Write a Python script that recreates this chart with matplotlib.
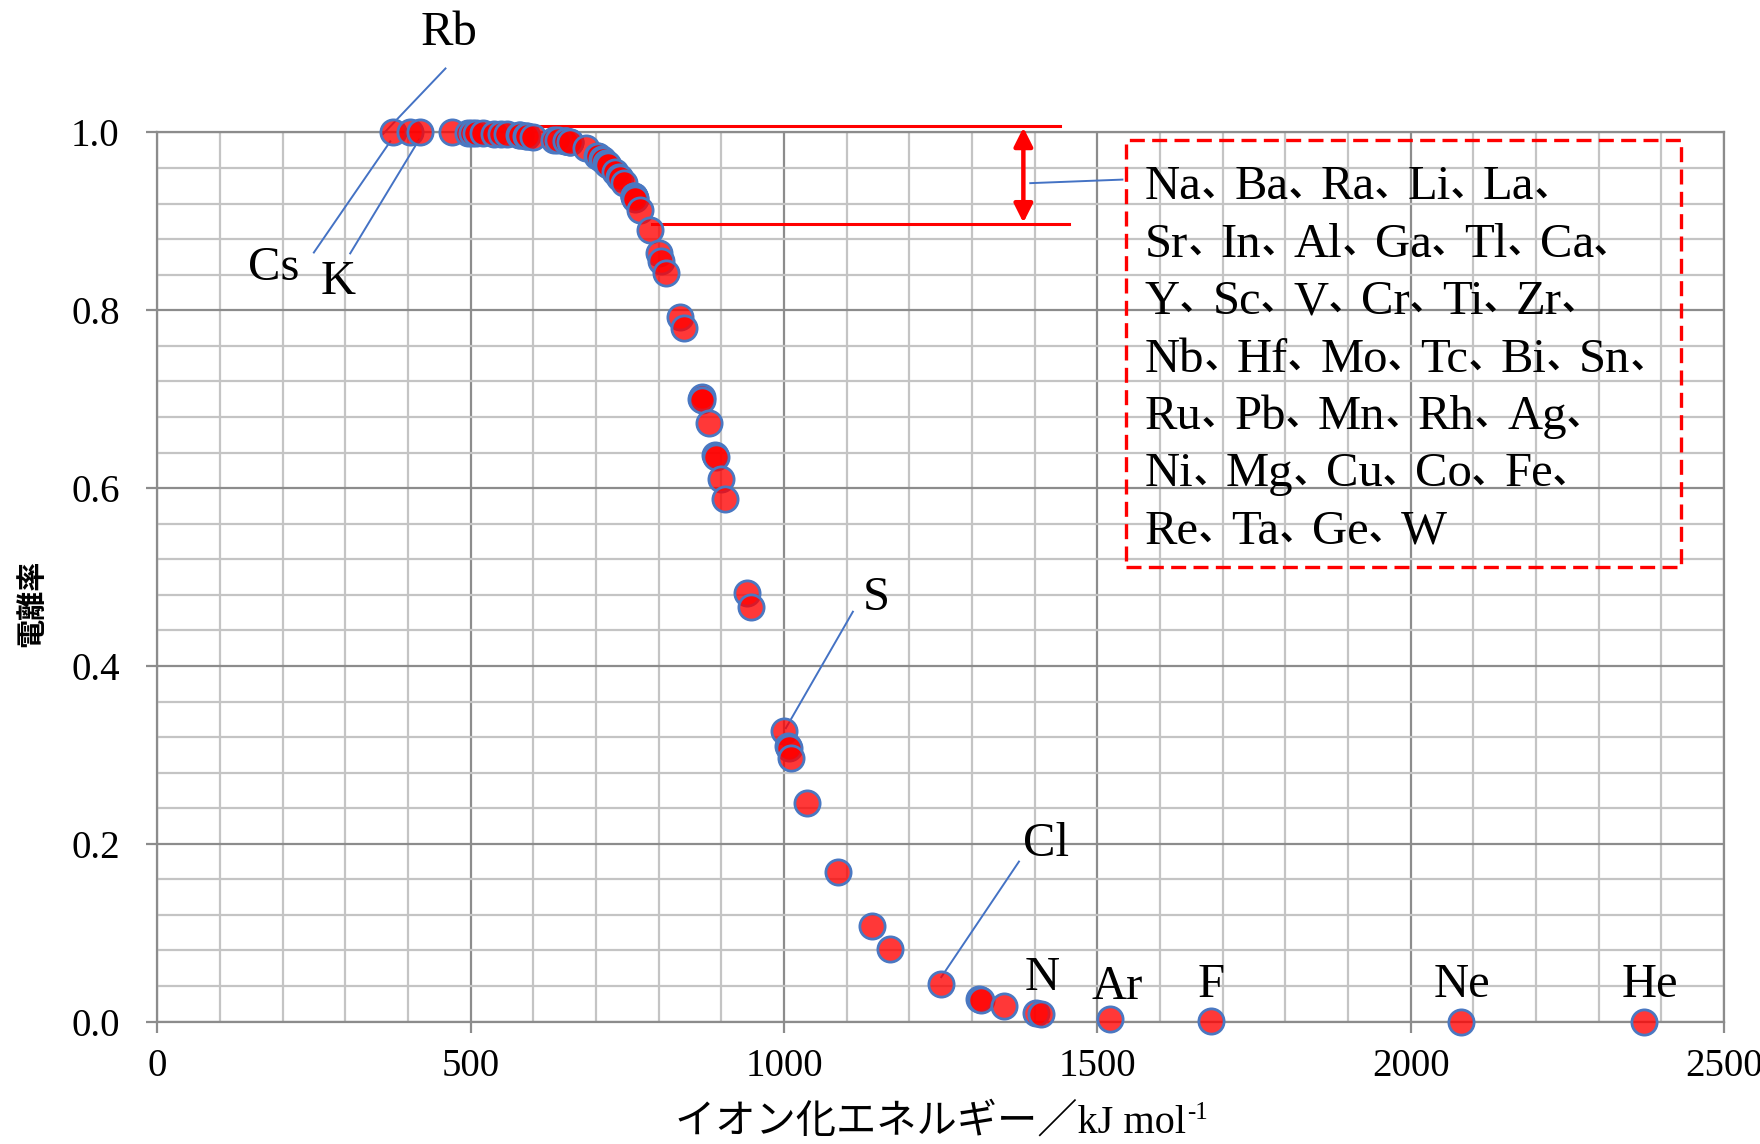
import matplotlib
matplotlib.use("Agg")
import matplotlib.pyplot as plt
from matplotlib.patches import Rectangle
from matplotlib.ticker import MultipleLocator

# ---------------- data ----------------
elements = ["Cs", "Rb", "K", "", "Na", "Ba", "Ra", "Li", "La", "Sr", "In", "Al", "Ga",
            "Tl", "Ca", "Y", "Sc", "V", "Cr", "Ti", "Zr", "Nb", "Hf", "Mo", "Tc", "Bi",
            "Sn", "Ru", "Pb", "Mn", "Rh", "Ag", "Ni", "Mg", "Cu", "Co", "Fe", "Re", "Ta",
            "Ge", "W", "Si", "B", "Pd", "Po", "Sb", "Os", "Cd", "Te", "Pt", "Ir", "Au",
            "", "Be", "Zn", "Se", "As", "S", "Hg", "I", "P", "Rn", "C", "Br", "Xe", "Cl",
            "H", "O", "Kr", "N", "", "Ar", "F", "Ne", "He"]
ionization_energy = [376, 403, 419, 470, 496, 503, 509, 520, 538, 549, 558, 577, 579,
                     589, 590, 600, 633, 651, 653, 659, 640, 652, 659, 684, 702, 703,
                     709, 711, 716, 717, 720, 731, 737, 738, 745, 760, 762, 760, 761,
                     762, 770, 786, 801, 804, 812, 834, 840, 868, 869, 870, 880, 890,
                     892, 899, 906, 941, 947, 1000, 1007, 1008, 1012, 1037, 1086, 1140,
                     1170, 1251, 1312, 1314, 1351, 1402, 1410, 1521, 1681, 2081, 2372]
ionization_rate = [1.000, 1.000, 1.000, 1.000, 0.999, 0.999, 0.999, 0.999, 0.998, 0.998,
                   0.998, 0.997, 0.997, 0.996, 0.996, 0.995, 0.992, 0.990, 0.990, 0.989,
                   0.991, 0.990, 0.989, 0.982, 0.974, 0.973, 0.970, 0.969, 0.966, 0.965,
                   0.963, 0.955, 0.950, 0.949, 0.943, 0.928, 0.926, 0.928, 0.927, 0.925,
                   0.913, 0.890, 0.865, 0.856, 0.842, 0.793, 0.780, 0.700, 0.702, 0.699,
                   0.673, 0.637, 0.635, 0.610, 0.588, 0.482, 0.466, 0.327, 0.310, 0.308,
                   0.297, 0.246, 0.168, 0.107, 0.082, 0.042, 0.025, 0.024, 0.017, 0.010,
                   0.009, 0.003, 0.001, 0.000, 0.000]

box_lines = [["Na", "Ba", "Ra", "Li", "La", ""],
             ["Sr", "In", "Al", "Ga", "Tl", "Ca", ""],
             ["Y", "Sc", "V", "Cr", "Ti", "Zr", ""],
             ["Nb", "Hf", "Mo", "Tc", "Bi", "Sn", ""],
             ["Ru", "Pb", "Mn", "Rh", "Ag", ""],
             ["Ni", "Mg", "Cu", "Co", "Fe", ""],
             ["Re", "Ta", "Ge", "W"]]

x_ticks = [0, 500, 1000, 1500, 2000, 2500]
y_ticks = [0.0, 0.2, 0.4, 0.6, 0.8, 1.0]

SERIF = ["Liberation Serif", "Noto Sans CJK JP", "DejaVu Sans"]
JP = ["Noto Sans CJK JP", "DejaVu Sans"]
LEADER = "#4472C4"

fig = plt.figure(figsize=(17.6, 11.44), dpi=100)
ax = fig.add_axes([0.0893, 0.1070, 0.8903, 0.7772])

ax.set_xlim(0, 2500)
ax.set_ylim(0, 1.0)
ax.xaxis.set_major_locator(MultipleLocator(500))
ax.xaxis.set_minor_locator(MultipleLocator(100))
ax.yaxis.set_major_locator(MultipleLocator(0.2))
ax.yaxis.set_minor_locator(MultipleLocator(0.04))
ax.grid(which="major", color="#8c8c8c", lw=1.6, zorder=0)
ax.grid(which="minor", color="#c4c4c4", lw=1.6, zorder=0)
ax.set_axisbelow(True)
for s in ax.spines.values():
    s.set_color("#8c8c8c")
    s.set_linewidth(1.6)
ax.tick_params(which="major", direction="out", length=8, width=1.6, color="#8c8c8c")
ax.tick_params(which="minor", length=0)
ax.tick_params(axis="x", pad=11)
ax.tick_params(axis="y", pad=19)
ax.set_xticks(x_ticks)
ax.set_xticklabels([str(v) for v in x_ticks], family=SERIF, fontsize=28)
ax.set_yticks(y_ticks)
ax.set_yticklabels([f"{v:.1f}" for v in y_ticks], family=SERIF, fontsize=28)

ax.scatter(ionization_energy, ionization_rate, s=330, facecolor=(1, 0, 0, 0.78),
           edgecolor="#4a78c2", linewidth=2.0, zorder=5, clip_on=False)

def point(name):
    i = elements.index(name)
    return ionization_energy[i], ionization_rate[i]

leaders = [("Rb", (466, 1.112), (460, 1.072), (360, 0.998)),
           ("Cs", (186, 0.848), (250, 0.865), (372, 0.990)),
           ("K", (288, 0.832), (308, 0.864), (418, 0.992)),
           ("S", (1148, 0.476), (1110, 0.461), (1003, 0.330)),
           ("Cl", (1418, 0.200), (1375, 0.180), (1251, 0.050))]
for name, tpos, l0, l1 in leaders:
    ax.text(tpos[0], tpos[1], name, family=SERIF, fontsize=35, ha="center", va="center")
    ax.plot([l0[0], l1[0]], [l0[1], l1[1]], color=LEADER, lw=1.4, zorder=4, clip_on=False)

for name, ty in [("N", 0.049), ("Ar", 0.039), ("F", 0.041), ("Ne", 0.041), ("He", 0.041)]:
    px, py = point(name)
    ax.text(px + (10 if name in ("N", "Ar", "He") else 0), ty, name, family=SERIF,
            fontsize=35, ha="center", va="center")

# red range marker
ax.plot([600, 1440], [1.0076, 1.0076], color="red", lw=2.2, clip_on=False, zorder=3)
ax.plot([790, 1455], [0.8965, 0.8965], color="red", lw=2.2, clip_on=False, zorder=3)
ax.annotate("", xy=(1382, 0.8985), xytext=(1382, 1.0056),
            arrowprops=dict(arrowstyle="<|-|>", color="red", lw=3.2, mutation_scale=28,
                            shrinkA=0, shrinkB=0), zorder=3)
ax.plot([1393, 1540], [0.943, 0.947], color=LEADER, lw=1.4, zorder=3)

# dashed box with element list
ax.add_patch(Rectangle((1545, 0.511), 2432 - 1545, 0.991 - 0.511, fill=False,
                       edgecolor="red", lw=2.4, linestyle=(0, (4.5, 2.2)), zorder=3))

fig.canvas.draw()
r = fig.canvas.get_renderer()
W, H = fig.bbox.width, fig.bbox.height
BOX_FS = 35
COMMA_FS = 24
line_step = 0.0646
for k, toks in enumerate(box_lines):
    xd, yd = ax.transData.transform((1576, 0.944 - k * line_step))
    cur = xd
    for j, tok in enumerate(toks):
        if not tok:
            continue
        t = fig.text(cur / W, yd / H, tok, family=SERIF, fontsize=BOX_FS,
                     ha="left", va="center_baseline")
        cur += t.get_window_extent(r).width
        if j < len(toks) - 1:
            c = fig.text(cur / W, (yd - 13) / H, "、", family=JP, fontsize=COMMA_FS,
                         fontweight="bold", ha="left", va="baseline")
            cur += c.get_window_extent(r).width - 1

# axis labels
ax.set_ylabel("電離率", family=JP, fontsize=21, fontweight="bold")
ax.yaxis.set_label_coords(-0.071, 0.47)

xl = fig.text(0.5, 0.0, "イオン化エネルギー／kJ mol", family=SERIF, fontsize=29,
              ha="left", va="baseline")
fig.canvas.draw()
bb = xl.get_window_extent(r)
sup = fig.text(0, 0, "-1", family=SERIF, fontsize=18, ha="left", va="baseline")
fig.canvas.draw()
bs = sup.get_window_extent(r)
total = bb.width + bs.width
cx = 838 / 1568 * W
x0 = cx - total / 2
base = (1 - 1009 / 1019) * H
xl.set_position((x0 / W, base / H))
sup.set_position(((x0 + bb.width + 1) / W, (base + 14) / H))

fig.savefig("out.png", dpi=100)
